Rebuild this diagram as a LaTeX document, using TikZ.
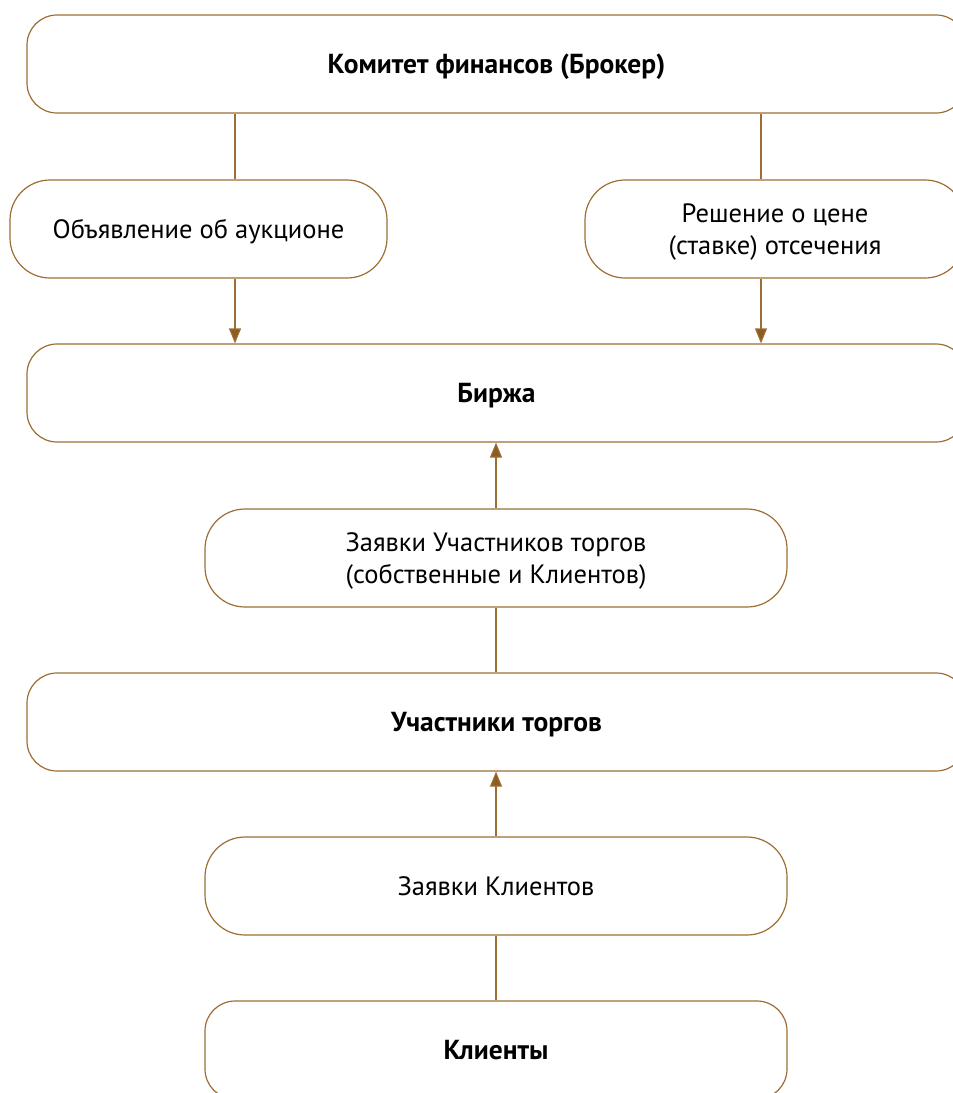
\documentclass[tikz,border=0pt]{standalone}
\usepackage{fontspec}
\setmainfont{PT Sans}
\usetikzlibrary{arrows.meta}
\definecolor{brd}{RGB}{156,110,52}
\definecolor{arr}{RGB}{140,92,32}
\tikzset{
  box/.style={draw=brd, line width=1.2pt, rounded corners=#1, fill=white, align=center,
    inner sep=0pt, text depth=-4pt, font=\fontsize{26.5}{32}\selectfont},
  box/.default=34pt,
  bbox/.style={box=30pt, font=\fontsize{27.5}{32}\selectfont\bfseries},
  conn/.style={draw=brd, line width=1.2pt},
  arrw/.style={conn, -{Triangle[length=15pt,width=12pt,fill=arr]}}
}
\begin{document}
\begin{tikzpicture}[x=1pt,y=-1pt]
\useasboundingbox (0,0) rectangle (953,1093);
\clip (0,0) rectangle (953,1093);
\node[bbox, minimum width=939pt, minimum height=98pt] (kom) at (496.5,64) {Комитет финансов (Брокер)};
\node[box=40pt, minimum width=377pt, minimum height=98pt] (obj) at (198.5,229) {Объявление об аукционе};
\node[box=40pt, minimum width=380pt, minimum height=98pt] (res) at (775,229) {Решение о цене\\(ставке) отсечения};
\node[bbox, minimum width=939pt, minimum height=98pt] (bir) at (496.5,393) {Биржа};
\node[box=40pt, minimum width=582pt, minimum height=98pt] (zu) at (496,558) {Заявки Участников торгов\\(собственные и Клиентов)};
\node[bbox, minimum width=939pt, minimum height=98pt] (uch) at (496.5,722) {Участники торгов};
\node[box=40pt, minimum width=582pt, minimum height=98pt] (zk) at (496,886) {Заявки Клиентов};
\node[bbox, minimum width=582pt, minimum height=98pt] (kl) at (496,1050) {Клиенты};
\coordinate (cl) at (235,0);
\coordinate (cr) at (761,0);
\draw[conn] (kom.south -| cl) -- (obj.north -| cl);
\draw[conn] (kom.south -| cr) -- (res.north -| cr);
\draw[arrw] (obj.south -| cl) -- (bir.north -| cl);
\draw[arrw] (res.south -| cr) -- (bir.north -| cr);
\draw[arrw] (zu.north) -- (bir.south -| zu.north);
\draw[conn] (uch.north -| zu.south) -- (zu.south);
\draw[arrw] (zk.north) -- (uch.south -| zk.north);
\draw[conn] (kl.north) -- (zk.south);
\end{tikzpicture}
\end{document}
